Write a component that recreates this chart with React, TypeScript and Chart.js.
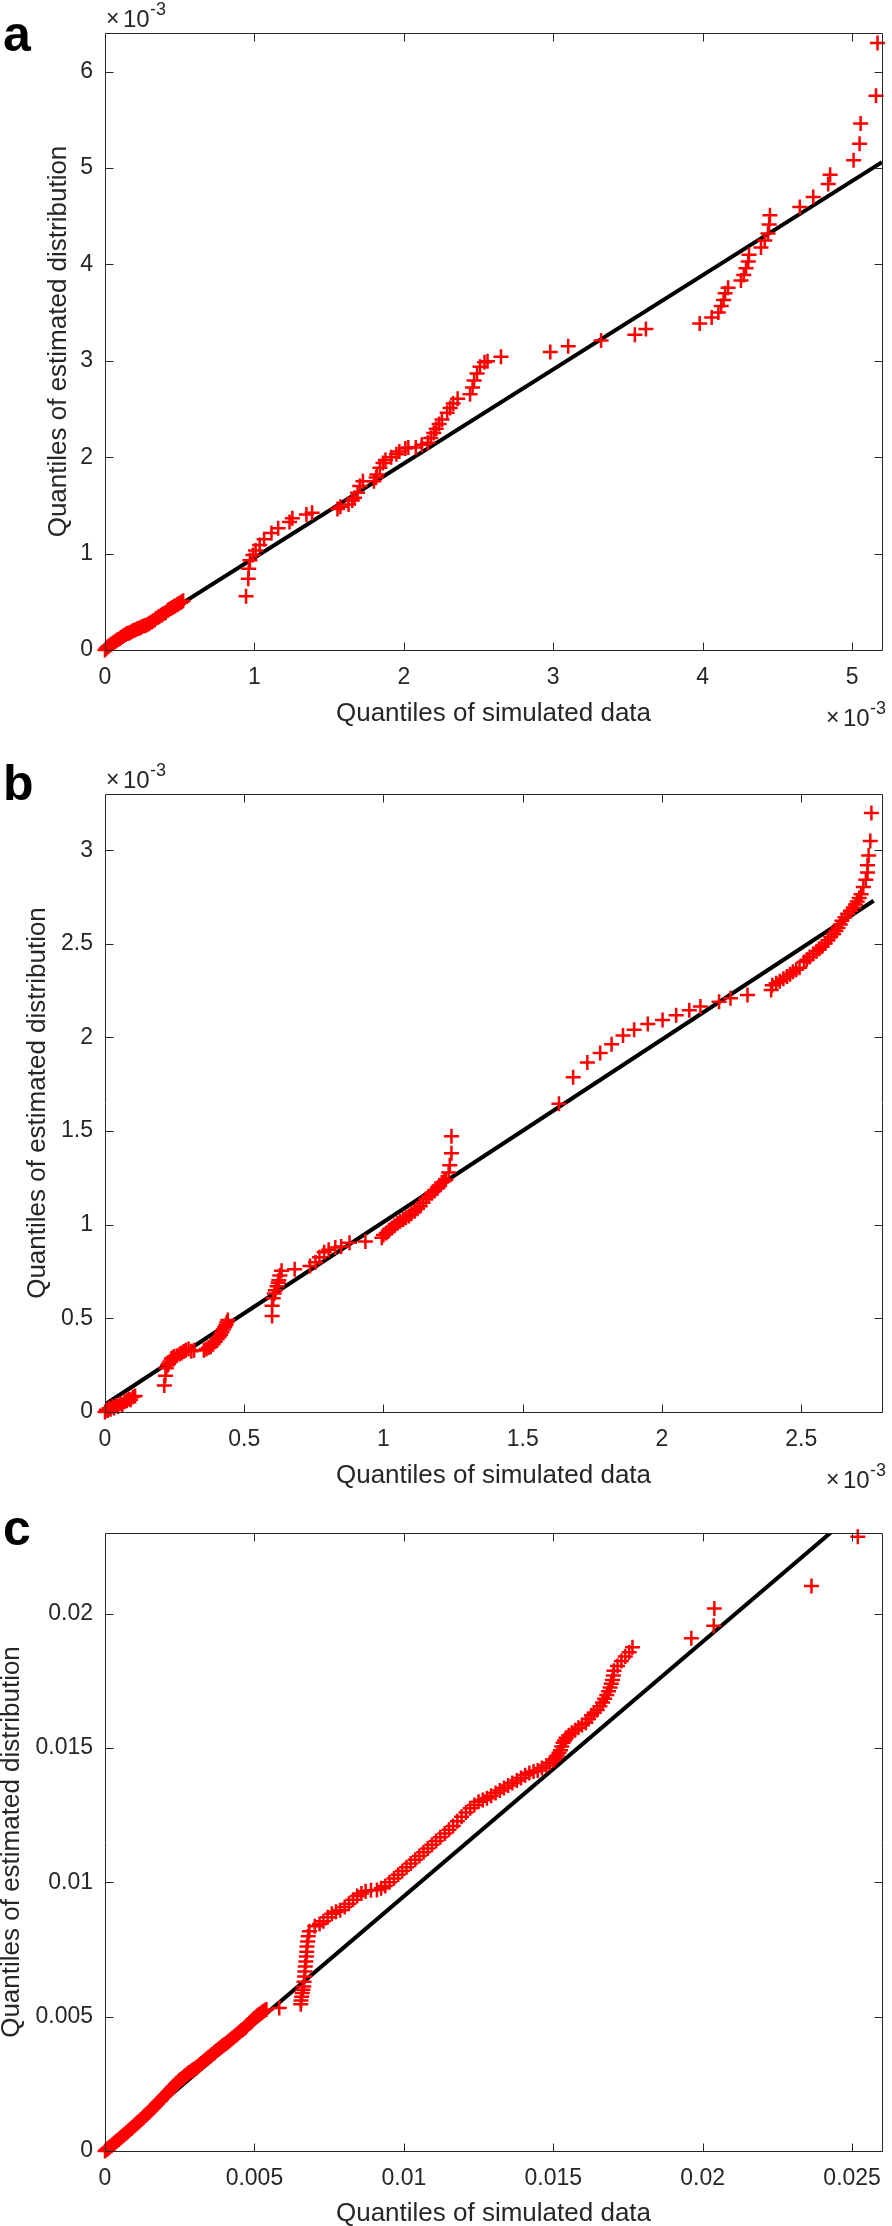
import React, { useEffect, useRef } from 'react';
import { Chart, registerables } from 'chart.js';

Chart.register(...registerables);

const FONT = '"Liberation Sans", Arial, Helvetica, sans-serif';
const INK = '#262626';
const RED = '#ff0000';

type Pt = [number, number];

// ---------- Panel a (values in units of 1e-3) ----------
const qqA: Pt[] = [
  [0, 0], [0.008, 0.015], [0.017, 0.03], [0.024, 0.04], [0.033, 0.05], [0.041, 0.06], [0.052, 0.07],
  [0.06, 0.08], [0.071, 0.09], [0.079, 0.1], [0.088, 0.11], [0.1, 0.12], [0.107, 0.13], [0.118, 0.14],
  [0.126, 0.15], [0.139, 0.16], [0.147, 0.17], [0.158, 0.175], [0.166, 0.18], [0.178, 0.19], [0.186, 0.2],
  [0.197, 0.205], [0.205, 0.21], [0.217, 0.22], [0.226, 0.225], [0.238, 0.23], [0.246, 0.24], [0.259, 0.25],
  [0.268, 0.255], [0.279, 0.26], [0.291, 0.27], [0.3, 0.28], [0.312, 0.29], [0.321, 0.3], [0.333, 0.31],
  [0.342, 0.33], [0.356, 0.34], [0.364, 0.35], [0.377, 0.36], [0.385, 0.37], [0.398, 0.38], [0.407, 0.39],
  [0.419, 0.41], [0.428, 0.42], [0.44, 0.43], [0.451, 0.44], [0.462, 0.45], [0.47, 0.46], [0.483, 0.47],
  [0.492, 0.48], [0.505, 0.49], [0.514, 0.5], [0.523, 0.51],
  [0.944, 0.557], [0.959, 0.738], [0.962, 0.843], [0.97, 0.93], [0.99, 0.986], [1.008, 1.033],
  [1.035, 1.09], [1.065, 1.148], [1.114, 1.214], [1.159, 1.262], [1.235, 1.329], [1.254, 1.367],
  [1.348, 1.405], [1.386, 1.424],
  [1.556, 1.462], [1.575, 1.486], [1.63, 1.51], [1.655, 1.55], [1.67, 1.58], [1.69, 1.63], [1.705, 1.7],
  [1.726, 1.75],
  [1.8, 1.75], [1.815, 1.79], [1.82, 1.82], [1.84, 1.89], [1.86, 1.94], [1.877, 1.97], [1.915, 2.0],
  [1.95, 2.03], [1.97, 2.06], [2.01, 2.09], [2.03, 2.1], [2.08, 2.1], [2.12, 2.13], [2.16, 2.15],
  [2.18, 2.2], [2.2, 2.25], [2.217, 2.295], [2.236, 2.343], [2.255, 2.39], [2.29, 2.46], [2.31, 2.51],
  [2.33, 2.557], [2.36, 2.605], [2.443, 2.652], [2.46, 2.724], [2.47, 2.795], [2.49, 2.867],
  [2.51, 2.938], [2.54, 2.986], [2.56, 2.995], [2.65, 3.043],
  [2.98, 3.09], [3.1, 3.15], [3.32, 3.21], [3.546, 3.271], [3.62, 3.33],
  [3.98, 3.386], [4.06, 3.45], [4.105, 3.5], [4.124, 3.567], [4.14, 3.63], [4.15, 3.7], [4.17, 3.757],
  [4.256, 3.833], [4.275, 3.89], [4.29, 3.96], [4.305, 4.03], [4.31, 4.1], [4.39, 4.176], [4.415, 4.248],
  [4.437, 4.32], [4.445, 4.414], [4.45, 4.51],
  [4.65, 4.595], [4.74, 4.7], [4.84, 4.833], [4.853, 4.93], [5.01, 5.08], [5.05, 5.25], [5.057, 5.46],
  [5.16, 5.75], [5.17, 6.295],
];
const refLineA: Pt[] = [[0, -0.02], [5.2, 5.06]];
const xTicksA = { min: 0, max: 5.2, step: 1 };
const yTicksA = { min: 0, max: 6.4, step: 1 };

// ---------- Panel b (values in units of 1e-3) ----------
const qqB: Pt[] = [
  [0, 0], [0.005, 0.012], [0.01, 0.008], [0.015, 0.02], [0.02, 0.015], [0.027, 0.028], [0.033, 0.022],
  [0.04, 0.035], [0.047, 0.03], [0.055, 0.045], [0.062, 0.04], [0.07, 0.055], [0.078, 0.06],
  [0.085, 0.07], [0.092, 0.065], [0.1, 0.08], [0.108, 0.085],
  [0.213, 0.142], [0.217, 0.194], [0.22, 0.233], [0.225, 0.25], [0.228, 0.258], [0.233, 0.27],
  [0.238, 0.284], [0.243, 0.29], [0.248, 0.297], [0.258, 0.3], [0.268, 0.31], [0.275, 0.315],
  [0.283, 0.323], [0.29, 0.33], [0.3, 0.336], [0.31, 0.325], [0.32, 0.33],
  [0.355, 0.33], [0.364, 0.336], [0.372, 0.345], [0.38, 0.349], [0.388, 0.362], [0.396, 0.375],
  [0.403, 0.388], [0.41, 0.4], [0.415, 0.413], [0.42, 0.426], [0.425, 0.44], [0.43, 0.452],
  [0.434, 0.465], [0.437, 0.478], [0.441, 0.491],
  [0.6, 0.512], [0.6, 0.568], [0.604, 0.607], [0.608, 0.633], [0.612, 0.65], [0.618, 0.672],
  [0.622, 0.69], [0.624, 0.703], [0.628, 0.729], [0.634, 0.754],
  [0.681, 0.762], [0.736, 0.78], [0.756, 0.8], [0.77, 0.827], [0.787, 0.853], [0.803, 0.866],
  [0.827, 0.879], [0.848, 0.884], [0.878, 0.904], [0.935, 0.91],
  [0.994, 0.93], [1.0, 0.945], [1.01, 0.956], [1.02, 0.97], [1.03, 0.982], [1.04, 0.995], [1.05, 1.008],
  [1.06, 1.018], [1.071, 1.028], [1.08, 1.037], [1.091, 1.047], [1.1, 1.058], [1.112, 1.072],
  [1.122, 1.085], [1.132, 1.098], [1.142, 1.118], [1.152, 1.137], [1.162, 1.152], [1.173, 1.168],
  [1.183, 1.18], [1.193, 1.194], [1.2, 1.21], [1.209, 1.225], [1.218, 1.232], [1.224, 1.24],
  [1.234, 1.279], [1.238, 1.318], [1.244, 1.382], [1.244, 1.473],
  [1.63, 1.646], [1.681, 1.788], [1.732, 1.866], [1.778, 1.917], [1.819, 1.964], [1.86, 2.01],
  [1.9, 2.041], [1.949, 2.072], [2.002, 2.093], [2.051, 2.119], [2.098, 2.145], [2.138, 2.165],
  [2.205, 2.191], [2.246, 2.209], [2.307, 2.227],
  [2.392, 2.253], [2.396, 2.279], [2.41, 2.29], [2.423, 2.3], [2.436, 2.313], [2.449, 2.326],
  [2.46, 2.338], [2.47, 2.351], [2.482, 2.362], [2.494, 2.372], [2.51, 2.403], [2.52, 2.415],
  [2.53, 2.429], [2.543, 2.445], [2.555, 2.46], [2.565, 2.473], [2.575, 2.486], [2.586, 2.502],
  [2.596, 2.519], [2.606, 2.536], [2.616, 2.553], [2.624, 2.568], [2.632, 2.584], [2.64, 2.603],
  [2.646, 2.623], [2.657, 2.642], [2.667, 2.661], [2.677, 2.677], [2.687, 2.693], [2.695, 2.71],
  [2.701, 2.726], [2.708, 2.745], [2.715, 2.765], [2.723, 2.804], [2.732, 2.842], [2.738, 2.881],
  [2.738, 2.92], [2.742, 2.972], [2.748, 3.049], [2.752, 3.199],
];
const refLineB: Pt[] = [[0, 0.04], [2.76, 2.73]];
const xTicksB = { min: 0, max: 2.79, step: 0.5 };
const yTicksB = { min: 0, max: 3.3, step: 0.5 };

// ---------- Panel c (values in units of 1e-3, plotted in real units) ----------
const qqC: Pt[] = [
  [0, 0], [0.05, 0.05], [0.09, 0.08], [0.13, 0.12], [0.17, 0.16], [0.22, 0.2], [0.26, 0.24], [0.3, 0.28],
  [0.33, 0.31], [0.37, 0.35], [0.41, 0.38], [0.46, 0.43], [0.5, 0.47], [0.54, 0.51], [0.58, 0.55],
  [0.63, 0.6], [0.67, 0.63], [0.71, 0.67], [0.76, 0.72], [0.8, 0.76], [0.84, 0.8], [0.88, 0.84],
  [0.92, 0.88], [0.97, 0.93], [1.01, 0.97], [1.05, 1.01], [1.08, 1.04], [1.13, 1.09], [1.17, 1.13],
  [1.21, 1.17], [1.25, 1.21], [1.29, 1.26], [1.33, 1.3], [1.37, 1.34], [1.41, 1.38], [1.46, 1.43],
  [1.5, 1.48], [1.54, 1.52], [1.58, 1.57], [1.63, 1.62], [1.67, 1.67], [1.71, 1.72], [1.75, 1.77],
  [1.8, 1.82], [1.84, 1.87], [1.88, 1.92], [1.93, 1.97], [1.97, 2.02], [2.01, 2.07], [2.06, 2.12],
  [2.1, 2.17], [2.14, 2.22], [2.19, 2.28], [2.23, 2.33], [2.27, 2.38], [2.32, 2.43], [2.36, 2.48],
  [2.4, 2.53], [2.45, 2.58], [2.49, 2.62], [2.53, 2.66], [2.58, 2.7], [2.62, 2.74], [2.66, 2.78],
  [2.7, 2.82], [2.75, 2.86], [2.79, 2.9], [2.83, 2.93], [2.88, 2.97], [2.92, 3.0], [2.96, 3.03],
  [3.0, 3.06], [3.05, 3.1], [3.1, 3.14], [3.14, 3.18], [3.18, 3.22], [3.22, 3.26], [3.27, 3.3],
  [3.31, 3.34], [3.35, 3.38], [3.4, 3.42], [3.44, 3.46], [3.48, 3.5], [3.53, 3.54], [3.57, 3.58],
  [3.62, 3.62], [3.66, 3.66], [3.7, 3.7], [3.74, 3.74], [3.79, 3.78], [3.83, 3.82], [3.88, 3.86],
  [3.92, 3.9], [3.96, 3.93], [4.0, 3.96], [4.05, 4.0], [4.09, 4.04], [4.14, 4.08], [4.18, 4.12],
  [4.22, 4.16], [4.26, 4.2], [4.31, 4.24], [4.35, 4.28], [4.4, 4.32], [4.44, 4.36], [4.48, 4.4],
  [4.52, 4.44], [4.57, 4.48], [4.61, 4.52], [4.66, 4.56], [4.7, 4.6], [4.74, 4.65], [4.78, 4.7],
  [4.83, 4.75], [4.87, 4.8], [4.92, 4.85], [4.96, 4.9], [5.0, 4.94], [5.04, 4.98], [5.09, 5.02],
  [5.13, 5.06], [5.18, 5.1], [5.22, 5.13], [5.26, 5.16], [5.3, 5.2], [5.35, 5.24], [5.4, 5.27],
  [5.83, 5.32],
  [6.55, 5.46], [6.56, 5.6], [6.58, 5.74], [6.6, 5.88], [6.62, 6.0], [6.65, 6.12], [6.66, 6.3],
  [6.68, 6.49], [6.69, 6.68], [6.7, 6.87], [6.72, 7.05], [6.74, 7.24], [6.75, 7.42], [6.76, 7.61],
  [6.78, 7.8], [6.8, 7.99], [6.84, 8.18],
  [7.02, 8.36], [7.18, 8.45], [7.31, 8.55], [7.45, 8.7], [7.59, 8.83], [7.73, 8.9], [7.87, 8.96],
  [8.02, 9.08], [8.16, 9.2], [8.3, 9.35], [8.44, 9.49], [8.58, 9.58], [8.72, 9.67], [8.9, 9.7],
  [9.1, 9.71], [9.24, 9.78], [9.38, 9.86], [9.52, 10.0], [9.67, 10.14], [9.81, 10.28], [9.95, 10.42],
  [10.09, 10.56], [10.23, 10.7], [10.38, 10.84], [10.52, 10.98], [10.66, 11.12], [10.8, 11.26],
  [10.94, 11.4], [11.08, 11.54], [11.22, 11.68], [11.37, 11.82], [11.51, 11.96], [11.65, 12.1],
  [11.79, 12.27], [11.93, 12.44], [12.08, 12.6], [12.22, 12.76], [12.36, 12.88], [12.5, 13.0],
  [12.64, 13.06], [12.78, 13.13], [12.92, 13.22], [13.07, 13.32], [13.21, 13.42], [13.35, 13.51],
  [13.49, 13.6], [13.63, 13.7], [13.78, 13.79], [13.92, 13.88], [14.06, 13.98], [14.2, 14.07],
  [14.34, 14.12], [14.48, 14.16], [14.62, 14.25], [14.77, 14.35], [14.89, 14.45], [15.01, 14.54],
  [15.08, 14.63], [15.14, 14.72], [15.19, 14.82], [15.24, 14.91], [15.28, 15.05], [15.33, 15.19],
  [15.38, 15.28], [15.43, 15.38], [15.52, 15.47], [15.62, 15.57], [15.73, 15.66], [15.84, 15.75],
  [15.96, 15.85], [16.09, 15.94], [16.18, 16.08], [16.28, 16.22], [16.37, 16.31], [16.47, 16.41],
  [16.56, 16.55], [16.65, 16.69], [16.72, 16.83], [16.79, 16.97], [16.85, 17.11], [16.9, 17.25],
  [16.94, 17.39], [16.98, 17.53], [17.01, 17.7], [17.03, 17.87], [17.15, 18.05], [17.28, 18.24],
  [17.41, 18.4], [17.54, 18.56], [17.65, 18.75],
  [19.62, 19.08], [20.37, 19.55], [20.39, 20.19], [23.64, 21.03], [25.19, 22.86],
];
const refLineC: Pt[] = [[0, 0], [24.3, 23.03]];
const xTicksC = { min: 0, max: 0.026, step: 0.005 };
const yTicksC = { min: 0, max: 0.023, step: 0.005 };

const X_TITLE = 'Quantiles of simulated data';
const Y_TITLE = 'Quantiles of estimated distribution';

interface PanelCfg {
  letter: string;
  top: number;
  height: number;
  padTop: number;
  xAxisH: number;
  xTitlePad: number;
  yTitlePad: number;
  points: Pt[];
  line: Pt[];
  unit: number;
  xT: { min: number; max: number; step: number };
  yT: { min: number; max: number; step: number };
  exponent: boolean;
  letterY: number;
}

const fmt = (v: number) => String(Math.round(v * 1e6) / 1e6);

function drawExponent(ctx: CanvasRenderingContext2D, x: number, baseY: number) {
  ctx.fillStyle = INK;
  ctx.textAlign = 'left';
  ctx.textBaseline = 'alphabetic';
  ctx.font = `23px ${FONT}`;
  ctx.fillText('\u00d7', x - 1, baseY);
  ctx.font = `24px ${FONT}`;
  ctx.fillText('10', x + 16, baseY + 1);
  ctx.font = `18px ${FONT}`;
  ctx.fillText('-3', x + 43, baseY - 11);
}

function makeFramePlugin(cfg: PanelCfg) {
  return {
    id: 'matlabFrame' + cfg.letter,
    afterDraw(chart: any) {
      const { ctx, chartArea } = chart;
      const L = Math.round(chartArea.left) + 0.5;
      const R = Math.round(chartArea.right) + 0.5;
      const T = Math.round(chartArea.top) + 0.5;
      const B = Math.round(chartArea.bottom) + 0.5;
      const xs = chart.scales.x;
      const ys = chart.scales.y;
      const TL = 8;
      ctx.save();
      ctx.strokeStyle = INK;
      ctx.lineWidth = 1;
      ctx.beginPath();
      ctx.moveTo(L, T); ctx.lineTo(R, T); ctx.lineTo(R, B); ctx.lineTo(L, B); ctx.closePath();
      for (const t of xs.ticks) {
        const p = Math.round(xs.getPixelForValue(t.value)) + 0.5;
        ctx.moveTo(p, B); ctx.lineTo(p, B - TL);
        ctx.moveTo(p, T); ctx.lineTo(p, T + TL);
      }
      for (const t of ys.ticks) {
        const p = Math.round(ys.getPixelForValue(t.value)) + 0.5;
        ctx.moveTo(L, p); ctx.lineTo(L + TL, p);
        ctx.moveTo(R, p); ctx.lineTo(R - TL, p);
      }
      ctx.stroke();
      // panel letter
      ctx.fillStyle = '#000';
      ctx.font = `bold 50px ${FONT}`;
      ctx.textAlign = 'left';
      ctx.textBaseline = 'alphabetic';
      ctx.fillText(cfg.letter, 3, cfg.letterY);
      if (cfg.exponent) {
        drawExponent(ctx, 107, chartArea.top - 7);
        drawExponent(ctx, 827, chartArea.bottom + 75);
      }
      ctx.restore();
    },
  };
}

function Panel({ cfg }: { cfg: PanelCfg }) {
  const ref = useRef<HTMLCanvasElement>(null);
  useEffect(() => {
    const canvas = ref.current;
    if (!canvas) return;
    const toXY = (p: Pt) => ({ x: p[0] * cfg.unit, y: p[1] * cfg.unit });
    const tickFont = { family: FONT, size: 23 };
    const titleFont = { family: FONT, size: 26, lineHeight: 0.9 };
    const chart = new Chart(canvas, {
      type: 'scatter',
      data: {
        datasets: [
          {
            label: 'quantiles',
            data: cfg.points.map(toXY),
            pointStyle: 'cross',
            pointRadius: 7.5,
            pointHoverRadius: 7.5,
            pointBorderWidth: 2.5,
            pointBorderColor: RED,
            pointBackgroundColor: RED,
            borderColor: RED,
            showLine: false,
            clip: false,
          } as any,
          {
            label: 'reference',
            data: cfg.line.map(toXY),
            showLine: true,
            borderColor: '#000000',
            borderWidth: 4,
            pointRadius: 0,
            pointHoverRadius: 0,
          } as any,
        ],
      },
      options: {
        animation: false,
        responsive: false,
        maintainAspectRatio: false,
        devicePixelRatio: 1,
        events: [],
        layout: { padding: { top: cfg.padTop, right: 5, left: 0, bottom: 0 } },
        plugins: { legend: { display: false }, tooltip: { enabled: false } },
        scales: {
          x: {
            type: 'linear',
            position: 'bottom',
            min: cfg.xT.min,
            max: cfg.xT.max,
            grid: { display: false, drawTicks: false },
            border: { display: false },
            ticks: {
              stepSize: cfg.xT.step,
              includeBounds: false,
              autoSkip: false,
              maxRotation: 0,
              minRotation: 0,
              padding: 14,
              color: INK,
              font: tickFont,
              callback: (v: any) => fmt(Number(v)),
            },
            title: {
              display: true,
              text: X_TITLE,
              color: INK,
              font: titleFont,
              padding: { top: 0, bottom: cfg.xTitlePad },
            },
            afterFit: (s: any) => {
              s.height = cfg.xAxisH;
              s.paddingLeft = 0;
              s.paddingRight = 0;
            },
          },
          y: {
            type: 'linear',
            position: 'left',
            min: cfg.yT.min,
            max: cfg.yT.max,
            grid: { display: false, drawTicks: false },
            border: { display: false },
            ticks: {
              stepSize: cfg.yT.step,
              includeBounds: false,
              autoSkip: false,
              padding: 12,
              color: INK,
              font: tickFont,
              callback: (v: any) => fmt(Number(v)),
            },
            title: {
              display: true,
              text: Y_TITLE,
              color: INK,
              font: titleFont,
              padding: { top: cfg.yTitlePad, bottom: 0 },
            },
            afterFit: (s: any) => {
              s.width = 105;
              s.paddingTop = 0;
              s.paddingBottom = 0;
            },
          },
        },
      } as any,
      plugins: [makeFramePlugin(cfg)],
    });
    return () => chart.destroy();
  }, [cfg]);
  return (
    <canvas
      ref={ref}
      width={892}
      height={cfg.height}
      style={{ position: 'absolute', left: 0, top: cfg.top, width: 892, height: cfg.height, display: 'block' }}
    />
  );
}

const PANELS: PanelCfg[] = [
  {
    letter: 'a', top: 0, height: 745, padTop: 33, xAxisH: 95, xTitlePad: 19.3, yTitlePad: 47.3,
    points: qqA, line: refLineA, unit: 1, xT: xTicksA, yT: yTicksA, exponent: true, letterY: 51,
  },
  {
    letter: 'b', top: 745, height: 760, padTop: 49, xAxisH: 93, xTitlePad: 17.3, yTitlePad: 26.3,
    points: qqB, line: refLineB, unit: 1, xT: xTicksB, yT: yTicksB, exponent: true, letterY: 55,
  },
  {
    letter: 'c', top: 1505, height: 721, padTop: 28, xAxisH: 75, xTitlePad: 0.3, yTitlePad: 0,
    points: qqC, line: refLineC, unit: 1e-3, xT: xTicksC, yT: yTicksC, exponent: false, letterY: 40,
  },
];

export default function App() {
  return (
    <div
      style={{
        position: 'absolute',
        left: 0,
        top: 0,
        width: 892,
        height: 2226,
        overflow: 'hidden',
        background: '#ffffff',
      }}
    >
      {PANELS.map((p) => (
        <Panel key={p.letter} cfg={p} />
      ))}
    </div>
  );
}
